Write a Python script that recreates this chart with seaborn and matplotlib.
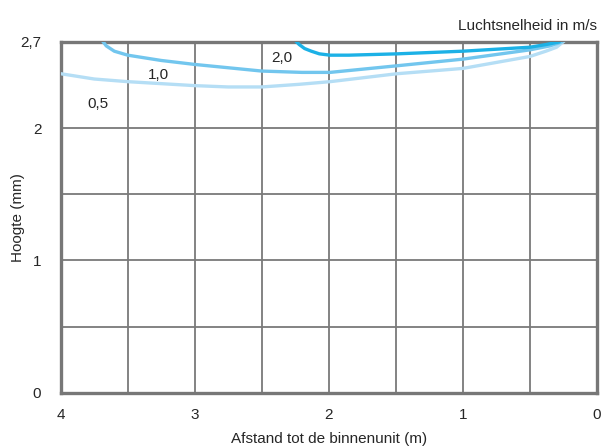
import matplotlib
matplotlib.use("Agg")
import matplotlib.pyplot as plt
import seaborn as sns
import pandas as pd

# curves: afstand (m) vs hoogte, per luchtsnelheid
x_05 = [4.0, 3.75, 3.5, 3.0, 2.75, 2.5, 2.22, 1.99, 1.49, 1.0, 0.5, 0.38, 0.3, 0.24]
y_05 = [2.41, 2.37, 2.35, 2.32, 2.31, 2.31, 2.33, 2.35, 2.41, 2.45, 2.54, 2.58, 2.61, 2.66]

x_10 = [3.69, 3.66, 3.60, 3.5, 3.25, 3.0, 2.5, 2.2, 1.99, 1.49, 1.0, 0.5, 0.35, 0.26]
y_10 = [2.66, 2.62, 2.58, 2.55, 2.51, 2.48, 2.43, 2.42, 2.42, 2.47, 2.52, 2.59, 2.62, 2.65]

x_20 = [2.25, 2.22, 2.18, 2.13, 2.07, 1.99, 1.85, 1.49, 1.0, 0.5, 0.38, 0.28]
y_20 = [2.66, 2.63, 2.60, 2.58, 2.56, 2.55, 2.55, 2.56, 2.58, 2.61, 2.63, 2.65]

speed_labels = ["0,5", "1,0", "2,0"]
colors = ["#b5def5", "#72c6ee", "#1cb1e6"]

x_ticks = [4, 3, 2, 1, 0]
y_ticks = [0, 1, 2, 2.65]
y_ticklabels = ["0", "1", "2", "2,7"]

sns.set_style("white")
plt.rcParams['font.family'] = ['Liberation Sans', 'DejaVu Sans']

fig, ax = plt.subplots(figsize=(6.01, 4.46), dpi=100)
fig.subplots_adjust(left=0.101, right=0.993, top=0.906, bottom=0.119)

# grid every 0.5
for v in [0.5, 1.0, 1.5, 2.0, 2.5, 3.0, 3.5]:
    ax.axvline(v, color="#7a7a7a", lw=1.3, zorder=1)
for h in [0.5, 1.0, 1.5, 2.0]:
    ax.axhline(h, color="#7a7a7a", lw=1.3, zorder=1)

for xs, ys, c in zip([x_05, x_10, x_20], [y_05, y_10, y_20], colors):
    df = pd.DataFrame({"x": xs, "y": ys})
    sns.lineplot(data=df, x="x", y="y", sort=False, color=c, lw=2.4, ax=ax, zorder=3)

fs = 11
ax.text(3.72, 2.18, speed_labels[0], fontsize=fs, ha="center", va="center")
ax.text(3.27, 2.40, speed_labels[1], fontsize=fs, ha="center", va="center")
ax.text(2.35, 2.53, speed_labels[2], fontsize=fs, ha="center", va="center")

ax.set_xlim(4, 0)
ax.set_ylim(0, 2.65)
ax.set_xticks(x_ticks)
ax.set_xticklabels([str(t) for t in x_ticks])
ax.set_yticks(y_ticks)
ax.set_yticklabels(y_ticklabels)
ax.tick_params(length=0, labelsize=fs, pad=11)
ax.tick_params(axis="y", pad=14)

for s in ax.spines.values():
    s.set_color("#777777")
    s.set_linewidth(2.4)

ax.set_xlabel("Afstand tot de binnenunit (m)", fontsize=fs, labelpad=7)
ax.set_ylabel("Hoogte (mm)", fontsize=fs)
ax.yaxis.set_label_coords(-0.067, 0.5)
ax.text(1.0, 1.025, "Luchtsnelheid in m/s", transform=ax.transAxes,
        fontsize=fs, ha="right", va="bottom")

fig.savefig("out.png", dpi=100)
